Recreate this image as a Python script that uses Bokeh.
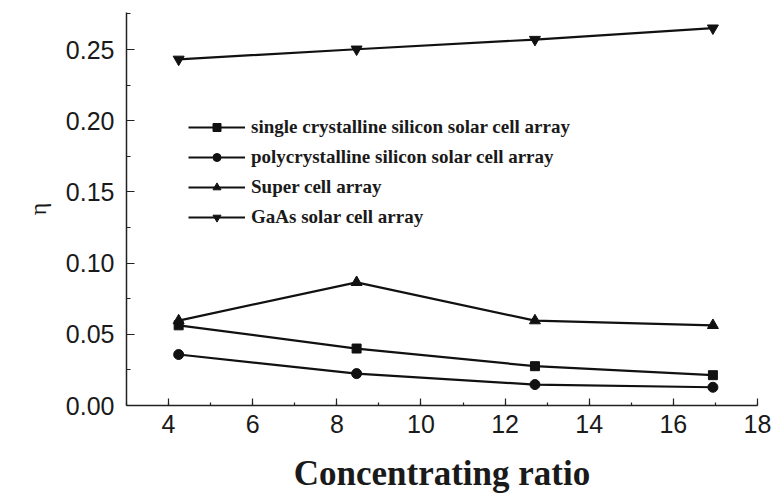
from bokeh.plotting import figure
from bokeh.models import Range1d, SingleIntervalTicker, Legend, LegendItem, PrintfTickFormatter
from bokeh.embed import file_html
from bokeh.resources import INLINE

# Concentrating ratio and conversion efficiency of each array type
ratio = [4.24, 8.47, 12.71, 16.94]
eta_single = [0.0563, 0.0400, 0.0276, 0.0213]
eta_poly = [0.0358, 0.0224, 0.0147, 0.0128]
eta_super = [0.0596, 0.0865, 0.0596, 0.0563]
eta_gaas = [0.2431, 0.2502, 0.2570, 0.2650]

series_names = [
    "single crystalline silicon solar cell array",
    "polycrystalline silicon solar cell array",
    "Super cell array",
    "GaAs solar cell array",
]

p = figure(width=775, height=495, output_backend="svg", toolbar_location=None,
           x_range=Range1d(3, 18), y_range=Range1d(0, 0.276),
           min_border_left=126, min_border_right=18,
           min_border_top=12, min_border_bottom=89)
p.outline_line_color = None
p.xgrid.visible = False
p.ygrid.visible = False
p.background_fill_color = "white"
p.border_fill_color = "white"

# axes: ticks pointing inward, one minor tick between majors
p.xaxis.ticker = SingleIntervalTicker(interval=2, num_minor_ticks=2)
p.yaxis.ticker = SingleIntervalTicker(interval=0.05, num_minor_ticks=2)
p.yaxis.formatter = PrintfTickFormatter(format="%.2f")
for ax in (p.xaxis[0], p.yaxis[0]):
    ax.axis_line_color = "#222222"
    ax.axis_line_width = 1.5
    ax.major_tick_line_color = "#222222"
    ax.minor_tick_line_color = "#222222"
    ax.major_tick_line_width = 1.2
    ax.minor_tick_line_width = 1.2
    ax.major_tick_out = 0
    ax.minor_tick_out = 0
    ax.major_label_text_font = "Liberation Sans"
    ax.major_label_text_font_size = "25px"
    ax.major_label_text_color = "#1a1a1a"
p.xaxis.major_tick_in = 7
p.xaxis.minor_tick_in = 3
p.yaxis.major_tick_in = 8
p.yaxis.minor_tick_in = 4
p.yaxis.major_label_standoff = 12
p.xaxis.major_label_standoff = 9

p.xaxis.axis_label = "Concentrating ratio"
p.xaxis.axis_label_text_font = "Liberation Serif"
p.xaxis.axis_label_text_font_style = "bold"
p.xaxis.axis_label_text_font_size = "35px"
p.xaxis.axis_label_text_color = "#1a1a1a"
p.xaxis.axis_label_standoff = 18

p.yaxis.axis_label = "η"
p.yaxis.axis_label_text_font = "Liberation Serif"
p.yaxis.axis_label_text_font_style = "normal"
p.yaxis.axis_label_text_font_size = "24px"
p.yaxis.axis_label_text_color = "#1a1a1a"
p.yaxis.axis_label_standoff = 12

color = "#111111"
items = []
specs = [
    (eta_single, "square", 9),
    (eta_poly, "circle", 10),
    (eta_super, "triangle", 11),
    (eta_gaas, "inverted_triangle", 11),
]
for name, (vals, marker, size) in zip(series_names, specs):
    ln = p.line(ratio, vals, line_color=color, line_width=2.2)
    sc = p.scatter(ratio, vals, marker=marker, size=size,
                   fill_color=color, line_color=color)
    items.append(LegendItem(label=name, renderers=[ln, sc]))

legend = Legend(items=items, location=(62, 177))
legend.border_line_color = None
legend.background_fill_alpha = 0
legend.padding = 0
legend.margin = 0
legend.glyph_width = 57
legend.glyph_height = 20
legend.label_height = 20
legend.spacing = 8
legend.label_standoff = 6
legend.label_text_font = "Liberation Serif"
legend.label_text_font_style = "bold"
legend.label_text_font_size = "19px"
legend.label_text_color = "#1a1a1a"
p.add_layout(legend, "center")

open("out.html", "w").write(file_html(p, INLINE))
